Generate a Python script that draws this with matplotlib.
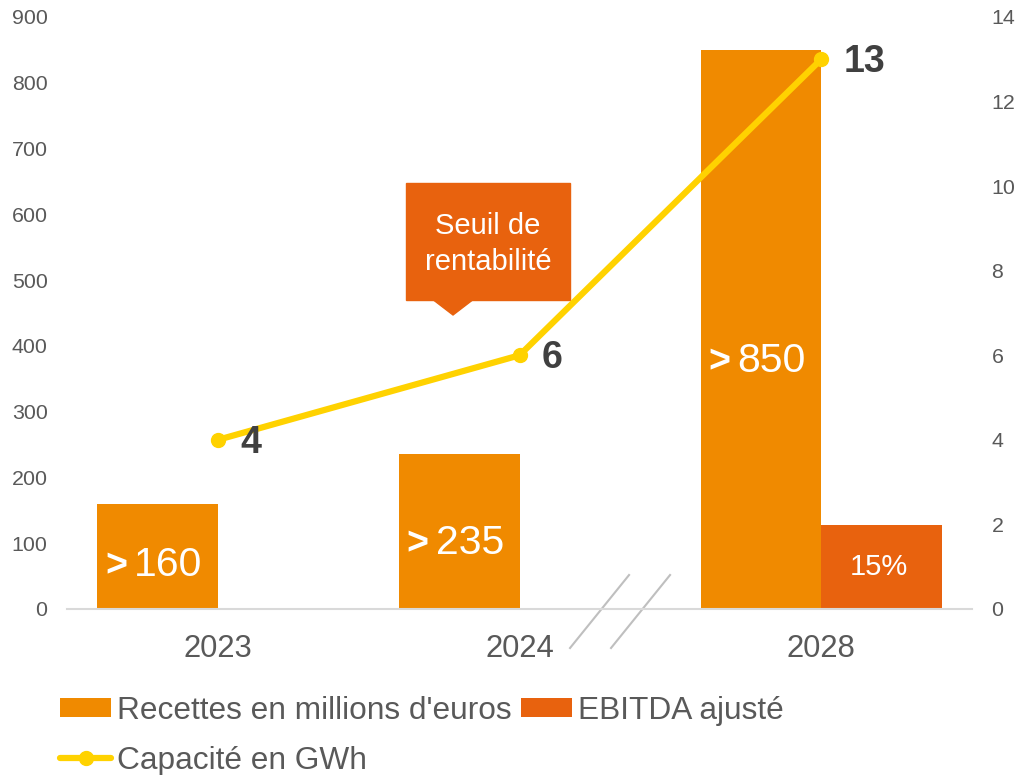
import numpy as np
import matplotlib
matplotlib.use('Agg')
import matplotlib.pyplot as plt
from matplotlib.patches import Rectangle, Polygon
from matplotlib.lines import Line2D

plt.rcParams['font.family'] = ['Liberation Sans', 'DejaVu Sans']

# data
years = ['2023', '2024', '2028']
recettes = [160, 235, 850]
recettes_labels = ['160', '235', '850']
ebitda = [np.nan, np.nan, 127]
ebitda_labels = ['', '', '15%']
capacite = [4, 6, 13]

c_rec = '#F08A00'
c_ebit = '#E8620E'
c_line = '#FFD200'
c_txt = '#595959'

fig = plt.figure(figsize=(10.2, 7.75), dpi=100)
ax = fig.add_axes([0.0657, 0.2142, 0.8873, 0.7639])
ax2 = ax.twinx()

x = np.arange(len(years))
w = 0.4
ax.bar(x - w/2, recettes, w, color=c_rec, label='Recettes en millions d\'euros')
ax.bar(x + w/2, ebitda, w, color=c_ebit, label='EBITDA ajusté')

ax.set_xlim(-0.5, 2.5)
ax.set_ylim(0, 900)
ax.set_yticks(np.arange(0, 901, 100))
ax2.set_ylim(0, 14)
ax2.set_yticks(np.arange(0, 15, 2))
ax.set_xticks(x)
ax.set_xticklabels(years, fontsize=22.3, color=c_txt)
ax.tick_params(axis='x', length=0, pad=18)
ax.tick_params(axis='y', length=0, pad=14, labelsize=15.4, labelcolor=c_txt)
ax2.tick_params(axis='y', length=0, pad=14, labelsize=15.4, labelcolor=c_txt)
for a in (ax, ax2):
    for s in ('top', 'left', 'right', 'bottom'):
        a.spines[s].set_visible(False)
ax.spines['bottom'].set_visible(True)
ax.spines['bottom'].set_color('#D9D9D9')
ax.spines['bottom'].set_linewidth(1.5)

# labels inside recettes bars
for xi, v, lab in zip(x, recettes, recettes_labels):
    xc = xi - w/2
    ax.annotate('>', (xc, 0.45*v), xytext=(-22, -10.5), textcoords='offset points',
                ha='right', va='baseline', fontsize=27, fontweight='bold', color='white')
    ax.annotate(lab, (xc, 0.45*v), xytext=(-17, -10.5), textcoords='offset points',
                ha='left', va='baseline', fontsize=29.5, color='white')
for xi, v, lab in zip(x, ebitda, ebitda_labels):
    if lab:
        ax.text(xi + w/2 - 0.01, v/2, lab, ha='center', va='center', fontsize=21, color='white')

# capacity line
ln, = ax2.plot(x, capacite, color=c_line, lw=4.5, marker='o', markersize=10,
               solid_capstyle='round', label='Capacité en GWh', zorder=3)
for xi, v in zip(x, capacite):
    ax2.annotate(str(v), (xi, v), xytext=(16, -2), textcoords='offset points',
                 ha='left', va='center', fontsize=27, fontweight='bold', color='#404040')

# callout "Seuil de rentabilité"
ax.add_patch(Rectangle((0.3746, 0.522), 0.1812, 0.1976, transform=ax.transAxes,
                       color=c_ebit, clip_on=False, zorder=5))
ax.add_patch(Polygon([[0.4044, 0.5225], [0.4486, 0.5225], [0.4265, 0.4966]],
                     transform=ax.transAxes, color=c_ebit, clip_on=False, zorder=5))
ax.text(0.4652, 0.616, 'Seuil de\nrentabilité', transform=ax.transAxes, ha='center',
        va='center', fontsize=21, color='white', linespacing=1.38, zorder=6)

# axis break marks
for x0, x1 in [(0.5558, 0.621), (0.6011, 0.6663)]:
    ax.add_line(Line2D([x0, x1], [-0.0659, 0.0574], transform=ax.transAxes,
                       color='#BFBFBF', lw=1.5, clip_on=False))

h1, l1 = ax.get_legend_handles_labels()
handles = [h1[0], ln, h1[1]]
labels = [l1[0], 'Capacité en GWh', l1[1]]
fig.legend(handles, labels, loc='upper left', bbox_to_anchor=(0.059, 0.102), ncol=2,
           frameon=False, fontsize=22.8, labelcolor=c_txt, handlelength=1.6,
           handleheight=0.55, handletextpad=0.2, columnspacing=0.3, labelspacing=0.62,
           borderpad=0, borderaxespad=0)

fig.savefig('out.png', dpi=100)
